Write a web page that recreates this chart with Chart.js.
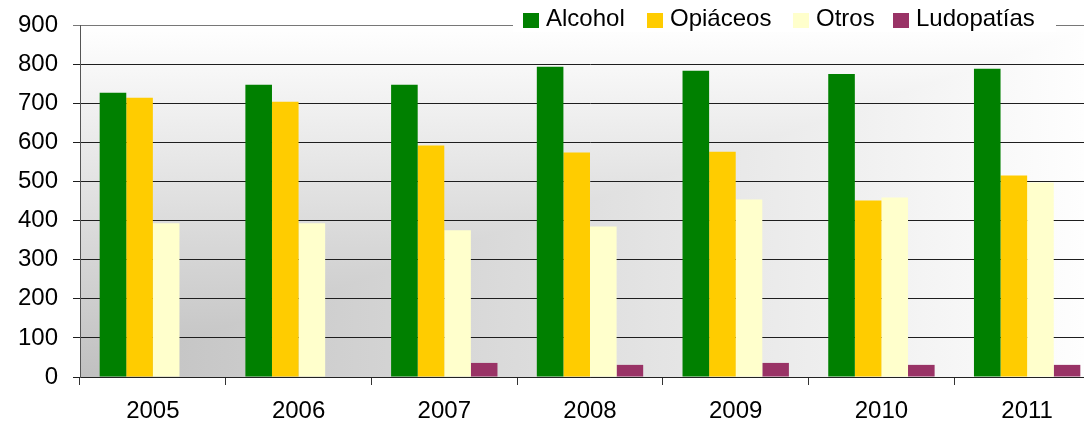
<!DOCTYPE html>
<html>
<head>
<meta charset="utf-8">
<script src="https://cdn.jsdelivr.net/npm/chart.js@4.4.0/dist/chart.umd.min.js"></script>
<style>
  body { margin: 0; background: #fff; }
  #wrap { width: 1084px; height: 423px; overflow: hidden; }
</style>
</head>
<body>
<div id="wrap">
  <canvas id="myChart" width="1100" height="423" style="width:1100px;height:423px"></canvas>
</div>
<script>
// datos
const years = ['2005', '2006', '2007', '2008', '2009', '2010', '2011'];
const alcohol = [727, 747, 747, 793, 783, 775, 788];
const opiaceos = [714, 704, 592, 574, 576, 451, 515];
const otros = [393, 393, 375, 385, 454, 459, 497];
const ludopatias = [0, 0, 36, 31, 36, 31, 31];
const seriesNames = ['Alcohol', 'Opiáceos', 'Otros', 'Ludopatías'];
const seriesColors = ['#008000', '#FFCC00', '#FFFFCC', '#993366'];
const yTicks = [0, 100, 200, 300, 400, 500, 600, 700, 800, 900];

const FONT = "'Liberation Sans', Arial, sans-serif";
Chart.defaults.font.family = FONT;
Chart.defaults.font.size = 24;
Chart.defaults.color = '#000';

// fondo degradado desde la esquina inferior izquierda
const cornerGradient = {
    id: 'cornerGradient',
    beforeDraw(chart) {
        const { ctx, chartArea: { left, top, right, bottom } } = chart;
        ctx.save();
        // todo el fondo: degradado vertical
        let g = ctx.createLinearGradient(0, bottom, 0, top);
        g.addColorStop(0, '#c0c0c0');
        g.addColorStop(1, '#ffffff');
        ctx.fillStyle = g;
        ctx.fillRect(left, top, right - left, bottom - top);
        // triangulo inferior derecho: degradado horizontal
        g = ctx.createLinearGradient(left, 0, right, 0);
        g.addColorStop(0, '#c0c0c0');
        g.addColorStop(1, '#ffffff');
        ctx.beginPath();
        ctx.moveTo(left, bottom);
        ctx.lineTo(right, bottom);
        ctx.lineTo(right, top);
        ctx.closePath();
        ctx.fillStyle = g;
        ctx.fill();
        ctx.restore();
    }
};

// leyenda dentro del area, arriba a la derecha
const boxLegend = {
    id: 'boxLegend',
    afterDraw(chart) {
        const ctx = chart.ctx;
        const itemX = [523, 647, 793, 893];
        ctx.save();
        ctx.fillStyle = '#ffffff';
        ctx.fillRect(513, 2, 543, 30);
        ctx.font = '24px ' + FONT;
        ctx.textBaseline = 'alphabetic';
        chart.data.datasets.forEach((ds, i) => {
            ctx.fillStyle = ds.backgroundColor;
            ctx.fillRect(itemX[i], 13, 16, 15);
            ctx.fillStyle = '#000';
            ctx.fillText(ds.label, itemX[i] + 23, 26);
        });
        ctx.restore();
    }
};

const ctx = document.getElementById('myChart').getContext('2d');
const myChart = new Chart(ctx, {
    type: 'bar',
    plugins: [cornerGradient, boxLegend],
    data: {
        labels: years,
        datasets: [alcohol, opiaceos, otros, ludopatias].map((d, i) => ({
            label: seriesNames[i],
            data: d,
            backgroundColor: seriesColors[i],
            borderWidth: 0,
            categoryPercentage: 0.73,
            barPercentage: 1
        }))
    },
    options: {
        responsive: false,
        animation: false,
        devicePixelRatio: 1,
        layout: { padding: { top: 25, right: 0, bottom: 0, left: 0 } },
        scales: {
            x: {
                grid: {
                    display: true,
                    drawOnChartArea: false,
                    drawTicks: true,
                    tickLength: 8,
                    color: '#333',
                    offset: true
                },
                border: { color: '#222', width: 1 },
                ticks: { padding: 12, font: { size: 24 } },
                afterFit(scale) { scale.height = 46; }
            },
            y: {
                min: 0,
                max: 900,
                afterBuildTicks(scale) {
                    scale.ticks = yTicks.map(v => ({ value: v }));
                },
                grid: {
                    color: (c) => c.tick && c.tick.value === 900 ? '#777' : '#1e1e1e',
                    tickLength: 7
                },
                border: { color: '#555', width: 1 },
                ticks: { padding: 15, font: { size: 24 } },
                afterFit(scale) {
                    scale.width = 80;
                    scale.paddingTop = 0;
                    scale.paddingBottom = 0;
                }
            }
        },
        plugins: {
            legend: { display: false },
            tooltip: { enabled: false }
        }
    }
});
</script>
</body>
</html>
